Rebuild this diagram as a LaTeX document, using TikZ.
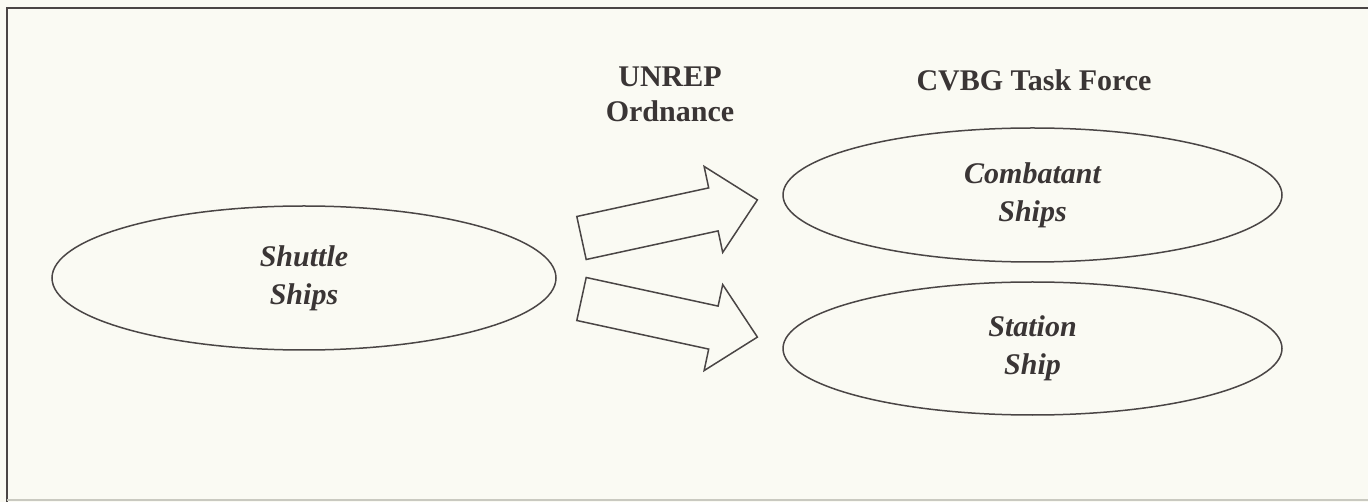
\documentclass[tikz,border=0pt]{standalone}
\usepackage{fontspec}
\setmainfont{Liberation Serif}
\usetikzlibrary{shapes.geometric}
\definecolor{paper}{HTML}{FAFAF3}
\definecolor{ink}{HTML}{4A4545}
\definecolor{txt}{HTML}{3A3535}
\definecolor{faint}{HTML}{C9C9C0}
\tikzset{
  oval/.style={ellipse, draw=ink, line width=1.5pt, inner sep=0pt, align=center,
    text=txt, font=\fontsize{30}{38}\selectfont\bfseries\itshape},
  blockarrow/.style={draw=ink, line width=1.5pt, line join=miter},
  heading/.style={text=txt, inner sep=0pt, align=center, font=\fontsize{30}{35}\selectfont\bfseries},
  framebar/.style={draw=ink, line width=2pt},
}
\begin{document}
\begin{tikzpicture}[x=1pt, y=-1pt]
\fill[paper] (0,0) rectangle (1368,502);
\useasboundingbox (0,0) rectangle (1368,502);
% frame
\draw[framebar] (1368,8) -- (7,8) -- (7,502);
\draw[faint, line width=1.5pt] (7,500) -- (1368,500);
% ellipses
\node[oval, minimum width=504pt, minimum height=144pt] (shuttle) at (304,278) {Shuttle\\Ships};
\node[oval, minimum width=499pt, minimum height=134pt] (combat) at (1032.5,195) {Combatant\\Ships};
\node[oval, minimum width=499pt, minimum height=133pt] (station) at (1032.5,348.5) {Station\\Ship};
% headings
\node[heading, anchor=center] (unrep) at (670,94.5) {UNREP\\Ordnance};
\node[heading, anchor=base] (cvbg) at (1034,91) {CVBG Task Force};
% block arrows
\draw[blockarrow] (576.8,216.5) -- (708.7,187.9) -- (704.1,166.4) -- (757.4,199.9)
  -- (722.7,252.4) -- (718.1,230.9) -- (586.2,259.5) -- cycle;
\draw[blockarrow] (576.8,320.5) -- (708.7,349.1) -- (704.1,370.6) -- (757.4,337.1)
  -- (722.7,284.6) -- (718.1,306.1) -- (586.2,277.5) -- cycle;
\end{tikzpicture}
\end{document}
